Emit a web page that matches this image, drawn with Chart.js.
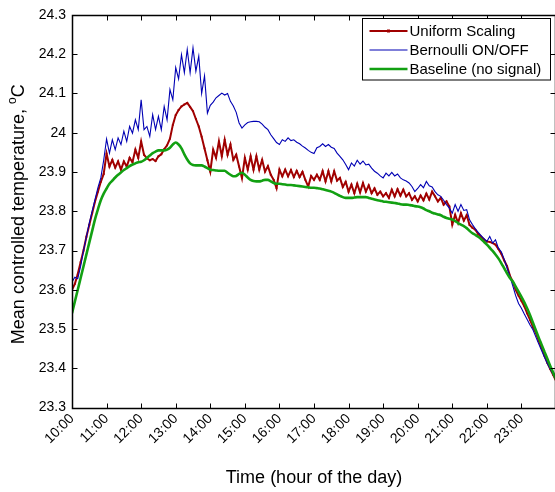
<!DOCTYPE html>
<html><head><meta charset="utf-8">
<script src="https://cdn.jsdelivr.net/npm/chart.js@4/dist/chart.umd.min.js"></script>
<style>html,body{margin:0;padding:0;overflow:hidden;background:#fff}#wrap{width:560px;height:492px;position:relative}</style>
</head><body><div id="wrap"><canvas id="c" width="560" height="492"></canvas></div>
<script>
// ---- data ----
const hourTicks = [10,11,12,13,14,15,16,17,18,19,20,21,22,23];
const hourTickLabels = ['10:00','11:00','12:00','13:00','14:00','15:00','16:00','17:00','18:00','19:00','20:00','21:00','22:00','23:00'];
const yTicks = [23.3,23.4,23.5,23.6,23.7,23.8,23.9,24.0,24.1,24.2,24.3];
const yTickLabels = ['23.3','23.4','23.5','23.6','23.7','23.8','23.9','24','24.1','24.2','24.3'];
const startHour = 10;      // first sample 10:00
const sampleMinutes = 5;   // one sample every 5 minutes

const seriesNames = ['Uniform Scaling','Bernoulli ON/OFF','Baseline (no signal)'];

const uniformScaling = [
23.600,23.615,23.640,23.670,23.700,23.735,23.765,23.795,23.825,23.850,23.875,23.895,
23.947,23.914,23.931,23.911,23.927,23.906,23.927,23.914,23.936,23.925,23.957,23.936,
23.978,23.944,23.935,23.930,23.933,23.928,23.940,23.945,23.958,23.968,23.985,24.020,
24.045,24.058,24.067,24.072,24.076,24.066,24.055,24.035,24.016,23.990,23.960,23.930,
23.901,23.957,23.936,23.978,23.940,23.982,23.944,23.970,23.931,23.944,23.914,23.884,
23.936,23.906,23.940,23.906,23.940,23.906,23.931,23.901,23.915,23.893,23.880,23.859,
23.906,23.889,23.906,23.889,23.905,23.887,23.903,23.887,23.900,23.880,23.863,23.890,
23.880,23.893,23.880,23.902,23.876,23.902,23.876,23.902,23.878,23.885,23.862,23.875,
23.850,23.868,23.846,23.870,23.848,23.872,23.850,23.866,23.846,23.858,23.842,23.850,
23.838,23.846,23.834,23.855,23.838,23.856,23.840,23.855,23.838,23.846,23.829,23.838,
23.825,23.840,23.828,23.845,23.830,23.850,23.838,23.825,23.834,23.817,23.825,23.812,
23.766,23.791,23.770,23.795,23.776,23.790,23.765,23.758,23.753,23.742,23.735,23.728,
23.723,23.722,23.719,23.715,23.704,23.692,23.675,23.660,23.636,23.620,23.600,23.585,
23.572,23.558,23.540,23.523,23.505,23.490,23.470,23.452,23.432,23.414,23.398,23.383,23.368
];

const bernoulliOnOff = [
23.620,23.632,23.628,23.660,23.700,23.735,23.770,23.800,23.830,23.860,23.885,23.930,
23.984,23.948,23.982,23.957,23.987,23.970,24.004,23.978,24.016,23.999,24.033,24.008,
24.084,24.008,24.016,23.991,24.046,24.008,24.042,24.008,24.067,24.033,24.110,24.084,
24.166,24.137,24.199,24.153,24.212,24.153,24.216,24.157,24.195,24.100,24.145,24.050,
24.070,24.078,24.089,24.095,24.101,24.096,24.100,24.080,24.068,24.052,24.025,24.012,
24.020,24.026,24.028,24.029,24.029,24.028,24.022,24.014,24.008,23.995,23.985,23.975,
23.970,23.982,23.978,23.987,23.980,23.982,23.976,23.972,23.966,23.961,23.955,23.950,
23.947,23.962,23.965,23.972,23.965,23.970,23.963,23.960,23.948,23.940,23.931,23.919,
23.906,23.923,23.915,23.930,23.920,23.928,23.918,23.920,23.910,23.902,23.897,23.890,
23.885,23.897,23.890,23.899,23.890,23.895,23.885,23.880,23.877,23.872,23.863,23.850,
23.858,23.868,23.860,23.876,23.865,23.862,23.850,23.842,23.838,23.828,23.817,23.808,
23.795,23.817,23.800,23.817,23.802,23.804,23.778,23.766,23.755,23.746,23.738,23.730,
23.723,23.736,23.719,23.727,23.706,23.697,23.678,23.656,23.634,23.610,23.585,23.565,
23.553,23.538,23.524,23.510,23.498,23.480,23.462,23.445,23.428,23.412,23.398,23.385,23.372
];

const baselineNoSignal = [
23.540,23.570,23.600,23.630,23.660,23.690,23.720,23.750,23.780,23.805,23.828,23.845,
23.858,23.870,23.878,23.886,23.893,23.899,23.905,23.910,23.915,23.919,23.922,23.925,
23.926,23.930,23.936,23.942,23.948,23.952,23.955,23.955,23.955,23.957,23.962,23.970,
23.975,23.970,23.960,23.945,23.932,23.922,23.918,23.917,23.917,23.917,23.914,23.910,
23.906,23.905,23.904,23.903,23.903,23.903,23.898,23.893,23.889,23.890,23.895,23.898,
23.893,23.886,23.880,23.877,23.876,23.876,23.878,23.880,23.880,23.876,23.872,23.870,
23.870,23.869,23.868,23.867,23.867,23.866,23.865,23.864,23.863,23.862,23.861,23.860,
23.860,23.859,23.858,23.856,23.854,23.852,23.850,23.847,23.843,23.839,23.836,23.834,
23.834,23.834,23.835,23.836,23.836,23.836,23.836,23.834,23.832,23.830,23.828,23.827,
23.825,23.824,23.823,23.822,23.821,23.820,23.818,23.817,23.817,23.816,23.815,23.813,
23.812,23.810,23.807,23.803,23.800,23.796,23.794,23.792,23.790,23.786,23.783,23.781,
23.779,23.775,23.770,23.766,23.762,23.757,23.750,23.744,23.740,23.735,23.729,23.722,
23.715,23.707,23.699,23.690,23.680,23.668,23.655,23.642,23.630,23.621,23.608,23.595,
23.582,23.568,23.552,23.535,23.516,23.497,23.478,23.460,23.442,23.424,23.406,23.389,23.372
];

// ---- build ----
const FONT = "'Liberation Sans', Arial, Helvetica, sans-serif";
const toPoints = vals => vals.map((v, i) => ({x: startHour + i * sampleMinutes / 60, y: v}));
const COL_RED = '#a00000', COL_BLUE = '#0000b4', COL_GREEN = '#12a012';

const framePlugin = {
  id: 'frame',
  afterDatasetsDraw(chart) {
    const {ctx, chartArea: a, scales: {x, y}} = chart;
    ctx.save();
    ctx.strokeStyle = '#000';
    const L = 72.5, T = Math.round(a.top) + 0.5, B = Math.round(a.bottom) + 0.5, R = Math.round(a.right) - 0.5;
    ctx.lineWidth = 1;
    ctx.beginPath();
    const tl = 5;
    hourTicks.forEach(h => {
      const px = Math.round(x.getPixelForValue(h)) + 0.5;
      ctx.moveTo(px, B); ctx.lineTo(px, B - tl);
      ctx.moveTo(px, T); ctx.lineTo(px, T + tl);
    });
    yTicks.forEach(v => {
      const py = Math.round(y.getPixelForValue(v)) + 0.5;
      ctx.moveTo(L, py); ctx.lineTo(L + tl, py);
      ctx.moveTo(R, py); ctx.lineTo(R - tl, py);
    });
    ctx.stroke();
    ctx.lineWidth = 1.5;
    ctx.strokeRect(L, T, R - L, B - T);
    ctx.restore();
  },
  afterDraw(chart) {
    const {ctx, chartArea: a} = chart;
    ctx.save();
    // legend
    const lx = 362.5, ly = 18.5, lw = 188, lh = 61.5;
    ctx.fillStyle = '#fff';
    ctx.fillRect(lx, ly, lw, lh);
    ctx.strokeStyle = '#000'; ctx.lineWidth = 1;
    ctx.strokeRect(lx, ly, lw, lh);
    ctx.font = '15px ' + FONT;
    ctx.textBaseline = 'middle';
    ctx.fillStyle = '#000';
    chart.data.datasets.forEach((ds, i) => {
      const yy = ly + 12.5 + i * 19;
      ctx.strokeStyle = ds.borderColor; ctx.lineWidth = ds.borderWidth;
      ctx.beginPath(); ctx.moveTo(lx + 7, yy); ctx.lineTo(lx + 45, yy); ctx.stroke();
      if (ds.pointRadius > 0) {
        ctx.fillStyle = ds.borderColor;
        ctx.fillRect(lx + 26 - 1.5, yy - 1.5, 3, 3);
      }
      ctx.fillStyle = '#000';
      ctx.fillText(ds.label, lx + 47, yy + 1);
    });
    // y title with superscript
    const main = 'Mean controlled temperature, ', sup = 'o', unit = 'C';
    ctx.font = '18px ' + FONT;
    const w1 = ctx.measureText(main).width, w3 = ctx.measureText(unit).width;
    ctx.font = '12px ' + FONT;
    const w2 = ctx.measureText(sup).width;
    const W = w1 + w2 + w3;
    ctx.translate(24, (a.top + a.bottom) / 2 + 3);
    ctx.rotate(-Math.PI / 2);
    ctx.textBaseline = 'alphabetic';
    ctx.textAlign = 'left';
    ctx.fillStyle = '#000';
    ctx.font = '18px ' + FONT;
    ctx.fillText(main, -W / 2, 0);
    ctx.font = '12px ' + FONT;
    ctx.fillText(sup, -W / 2 + w1, -8);
    ctx.font = '18px ' + FONT;
    ctx.fillText(unit, -W / 2 + w1 + w2, 0);
    ctx.restore();
  }
};

new Chart(document.getElementById('c'), {
  type: 'line',
  data: {
    datasets: [
      {label: seriesNames[0], data: toPoints(uniformScaling), borderColor: COL_RED, backgroundColor: COL_RED,
       borderWidth: 2, pointRadius: 1.3, pointStyle: 'rect', pointBorderWidth: 0, tension: 0, order: 3},
      {label: seriesNames[1], data: toPoints(bernoulliOnOff), borderColor: COL_BLUE, backgroundColor: COL_BLUE,
       borderWidth: 1.1, pointRadius: 0, tension: 0, order: 2},
      {label: seriesNames[2], data: toPoints(baselineNoSignal), borderColor: COL_GREEN, backgroundColor: COL_GREEN,
       borderWidth: 2.6, pointRadius: 0, tension: 0.3, cubicInterpolationMode: 'monotone', order: 1}
    ]
  },
  options: {
    responsive: false, animation: false, devicePixelRatio: 1,
    layout: {padding: {top: 15, right: 4, left: 0, bottom: 0}},
    plugins: {legend: {display: false}, tooltip: {enabled: false}},
    scales: {
      x: {
        type: 'linear', min: 10, max: 24,
        afterBuildTicks: s => { s.ticks = hourTicks.map(v => ({value: v})); },
        afterFit: s => { s.height = 84.5; },
        grid: {display: false, drawTicks: false}, border: {display: false},
        ticks: {autoSkip: false, maxRotation: 45, minRotation: 45, padding: 3, color: '#000',
                font: {family: FONT, size: 14},
                callback: v => { const k = hourTicks.indexOf(v); return k >= 0 ? hourTickLabels[k] : ''; }},
        title: {display: true, text: 'Time (hour of the day)', color: '#000',
                font: {family: FONT, size: 18}, padding: {top: 0, bottom: 3}}
      },
      y: {
        type: 'linear', min: 23.3, max: 24.3,
        afterBuildTicks: s => { s.ticks = yTicks.map(v => ({value: v})); },
        afterFit: s => { s.width = 72; },
        grid: {display: false, drawTicks: false}, border: {display: false},
        ticks: {padding: 6, color: '#000', font: {family: FONT, size: 14},
                callback: v => { const k = yTicks.findIndex(t => Math.abs(t - v) < 1e-6); return k >= 0 ? yTickLabels[k] : ''; }}
      }
    }
  },
  plugins: [framePlugin]
});
</script></body></html>
